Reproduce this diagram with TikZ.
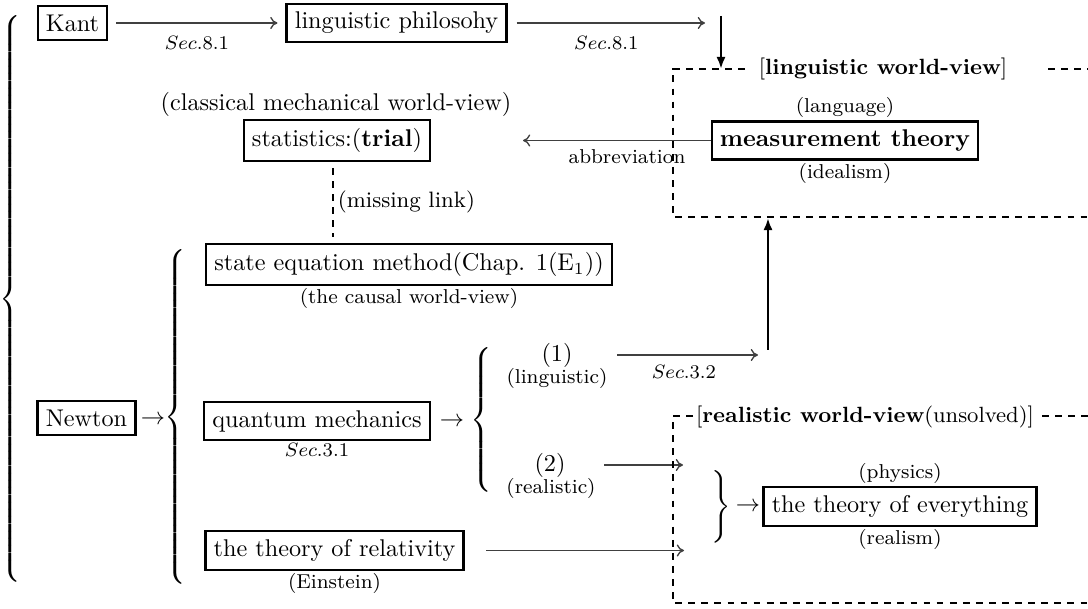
\documentclass[tikz,border=0pt]{standalone}
\usetikzlibrary{arrows.meta}
\newcommand{\mylbrace}[1]{$\left\{\vrule height\dimexpr#1+2.5pt\relax depth\dimexpr#1-2.5pt\relax width0pt\right.$}
\newcommand{\myrbrace}[1]{$\left.\vrule height\dimexpr#1+2.5pt\relax depth\dimexpr#1-2.5pt\relax width0pt\right\}$}
\begin{document}
\begin{tikzpicture}[x=0.413pt,y=-0.413pt,
 box/.style={draw,line width=0.9pt,inner sep=3.4pt},
 lbl/.style={font=\fontsize{8.3}{10}\selectfont,inner sep=0.8pt},
 ttl/.style={font=\fontsize{9.1}{11}\selectfont,inner sep=0pt},
 thinarrow/.style={draw=black!75,line width=0.55pt,-{To[length=3pt,width=5pt]}},
 bigarrow/.style={line width=1.1pt,-{Latex[length=5pt,width=3.8pt]}},
 dbox/.style={line width=0.9pt,dash pattern=on 2.8pt off 2.6pt},
 brc/.style={inner sep=0pt,outer sep=0pt}]
\useasboundingbox (0,0) rectangle (1088,609);

% braces
\node[brc] (brA) at (12,299) {\mylbrace{118.5pt}};
\node[brc] (brB) at (177,417) {\mylbrace{71pt}};
\node[brc] (brC) at (483,420) {\mylbrace{31.5pt}};
\node[brc] (brD) at (720,507) {\myrbrace{16.5pt}};

% top row
\node[box] (kant) at (72.5,23) {Kant};
\node[box] (ling) at (396.5,23) {linguistic philosohy};
\coordinate (c1) at (705,23);
\draw[thinarrow,shorten <=3.3pt,shorten >=3.3pt] (kant) -- (ling) node[midway,lbl,below=4.5pt]{$Sec.8.1$};
\draw[thinarrow,shorten <=3.7pt] (ling) -- (c1) node[midway,lbl,below=4.5pt]{$Sec.8.1$};
\coordinate (d1) at (721,16);
\coordinate (d2) at (721,69);
\draw[bigarrow] (d1) -- (d2);

% linguistic world-view frame
\coordinate (lw1) at (745,69);
\coordinate (lw0) at (673,69);
\coordinate (lw2) at (673,217);
\coordinate (lw3) at (1092,217);
\coordinate (lw4) at (1048,69);
\coordinate (lw5) at (1092,69);
\draw[dbox] (lw1) -- (lw0) -- (lw2) -- (lw3);
\draw[dbox] (lw4) -- (lw5);
\node[ttl] (lwt) at (883,69) {[\textbf{linguistic world-view}]};

\node[box] (meas) at (845,140.5) {\textbf{measurement theory}};
\node[lbl,anchor=south] (lang) at (meas.north) {(language)};
\node[lbl,anchor=north] (ideal) at (meas.south) {(idealism)};

\node (classical) at (336,104) {(classical mechanical world-view)};
\node[box] (stat) at (337,140.5) {statistics:(\textbf{trial})};
\coordinate (c2) at (523,140.5);
\draw[thinarrow] (meas) -- (c2);
\node[lbl] (abbr) at (627,157) {abbreviation};

\coordinate (ml1) at (333,168);
\coordinate (ml2) at (333,237);
\draw[dbox] (ml1) -- (ml2);
\node[font=\fontsize{9.2}{11}\selectfont,anchor=west,inner sep=1pt] (ml) at (335,202) {(missing link)};

\node[box] (state) at (409,264.5) {state equation method(Chap. 1(E$_1$))};
\node[lbl,anchor=north] (causal) at (state.south) {(the causal world-view)};

\node[box] (newton) at (86.5,418) {Newton};
\node[inner sep=0] (arrN) at (153,420) {$\rightarrow$};
\node[box] (qm) at (317,421) {quantum mechanics};
\node[lbl,anchor=north] (sec31) at (qm.south) {$Sec.3.1$};
\node[inner sep=0] (arrQ) at (452,422) {$\rightarrow$};

\node (one) at (557,355) {(1)};
\node[lbl] (lingl) at (557,378) {(linguistic)};
\node (two) at (550,465) {(2)};
\node[lbl] (real) at (551,488) {(realistic)};

\coordinate (c3) at (758,355);
\draw[thinarrow,shorten <=3pt] (lingl.east |- one) -- (c3) node[midway,lbl,below=3pt]{$Sec.3.2$};
\coordinate (u1) at (768,350);
\coordinate (u2) at (768,218);
\draw[bigarrow] (u1) -- (u2);

\coordinate (c4) at (683,465);
\draw[thinarrow,shorten <=2.5pt] (real.east |- two) -- (c4);

\node[box] (rel) at (334.5,550.5) {the theory of relativity};
\node[lbl,anchor=north] (ein) at (rel.south) {(Einstein)};
\coordinate (c5) at (684,550.5);
\draw[thinarrow,shorten <=9pt] (rel) -- (c5);

% realistic world-view frame
\coordinate (rw1) at (693,416);
\coordinate (rw0) at (673,416);
\coordinate (rw2) at (673,603);
\coordinate (rw3) at (1092,603);
\coordinate (rw4) at (1042,416);
\coordinate (rw5) at (1092,416);
\draw[dbox] (rw1) -- (rw0) -- (rw2) -- (rw3);
\draw[dbox] (rw4) -- (rw5);
\node[ttl] (rwt) at (865,417) {[\textbf{realistic world-view}(unsolved)]};

\node[inner sep=0] (arrT) at (748,507) {$\rightarrow$};
\node[box] (toe) at (900,506.5) {the theory of everything};
\node[lbl,anchor=south] (phys) at (toe.north) {(physics)};
\node[lbl,anchor=north] (realism) at (toe.south) {(realism)};
\end{tikzpicture}
\end{document}
